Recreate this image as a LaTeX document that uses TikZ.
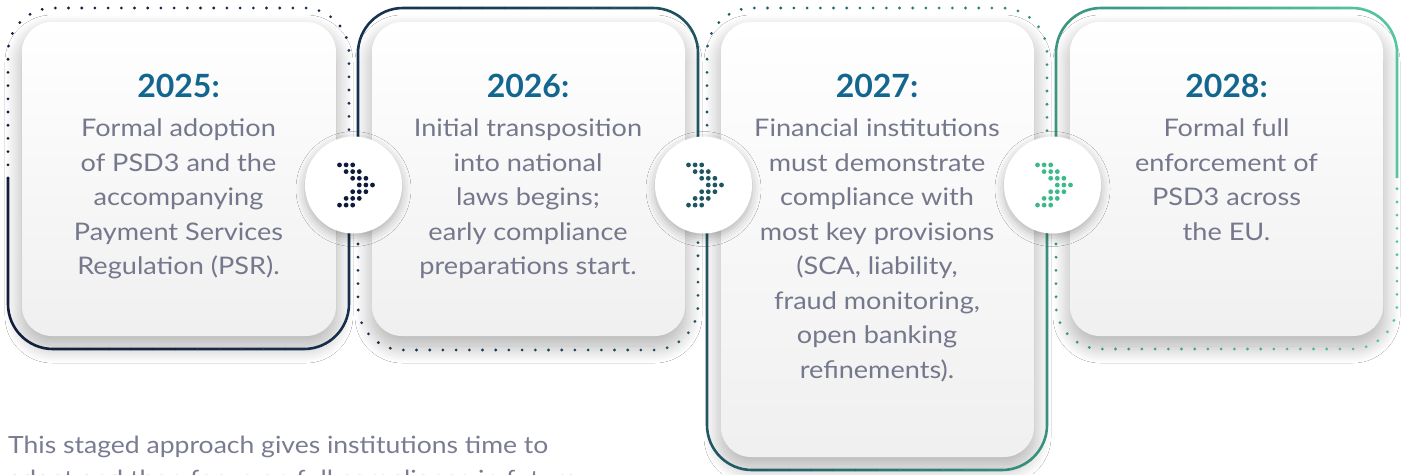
\documentclass[tikz,border=0pt]{standalone}
\usepackage{fontspec}
\setmainfont{Lato}
\newfontfamily\bodyfont{Lato}[FakeStretch=1.12]
\usetikzlibrary{shadows.blur}

% palette
\definecolor{yearblue}{HTML}{13678F}
\definecolor{bodygray}{HTML}{75788C}
\definecolor{notegray}{HTML}{7A7D92}
\definecolor{gA}{HTML}{121D3B}
\definecolor{gB}{HTML}{17304F}
\definecolor{gC}{HTML}{1F5562}
\definecolor{gD}{HTML}{3A937E}
\definecolor{gE}{HTML}{55C9A0}
\definecolor{chevA}{HTML}{0F1B3B}
\definecolor{chevB}{HTML}{1D5660}
\definecolor{chevC}{HTML}{3EB98A}

\tikzset{
  solidline/.style={draw, line width=2.6pt},
  innercard/.style={rounded corners=30pt, top color=white, bottom color=black!6,
    blur shadow={shadow xshift=0pt, shadow yshift=-10pt, shadow blur radius=17pt,
      shadow blur steps=20, shadow opacity=32}},
  disc/.style={circle, fill=white, minimum size=97pt, inner sep=0pt,
    blur shadow={shadow xshift=0pt, shadow yshift=-4pt, shadow blur radius=9pt, shadow opacity=28}},
  year/.style={anchor=base, inner sep=0pt, text=yearblue, font=\fontsize{32}{40}\selectfont\bfseries},
  body/.style={anchor=north, inner sep=0pt, align=center, text=bodygray, font=\bodyfont\fontsize{24.2}{34.5}\selectfont},
  note/.style={anchor=base west, inner sep=0pt, align=left, text=notegray, font=\bodyfont\fontsize{23.7}{34.5}\selectfont}
}

% colour "dotc" taken from the left-to-right gradient at x = #1
\newcommand\gradcolor[1]{%
  \pgfmathtruncatemacro\gseg{min(3,max(0,floor(#1/351)))}%
  \pgfmathtruncatemacro\gpc{max(0,min(100,(#1-351*\gseg)/351*100))}%
  \ifcase\gseg \colorlet{dotc}{gB!\gpc!gA}\or \colorlet{dotc}{gC!\gpc!gB}%
  \or \colorlet{dotc}{gD!\gpc!gC}\else \colorlet{dotc}{gE!\gpc!gD}\fi}

% solid halves of a frame (corner radius 45), split at y = 178
% #1 left x, #2 right x, #3 top or bottom y
\newcommand\upperhalf[3]{%
  \path[solidline] (#1,178) -- (#1,#3+45) arc[start angle=180,end angle=270,radius=45]
    -- (#2-45,#3) arc[start angle=270,end angle=360,radius=45] -- (#2,178);}
\newcommand\lowerhalf[3]{%
  \path[solidline] (#1,178) -- (#1,#3-45) arc[start angle=180,end angle=90,radius=45]
    -- (#2-45,#3) arc[start angle=90,end angle=0,radius=45] -- (#2,178);}

% dotted half of a frame: dots every 13.2pt along the same outline
% #1 left x, #2 right x, #3 edge y, #4 direction (-1 upward, 1 downward)
\newcommand\dottedhalf[4]{%
  \pgfmathsetmacro\fA{abs(#3-#4*45-178)}%
  \pgfmathsetmacro\fB{\fA+pi*45/2}%
  \pgfmathsetmacro\fC{\fB+#2-#1-90}%
  \pgfmathsetmacro\fD{\fC+pi*45/2}%
  \pgfmathsetmacro\fT{\fD+\fA}%
  \pgfmathtruncatemacro\fN{floor(\fT/13.2)}%
  \foreach \k in {0,...,\fN}{%
    \pgfmathsetmacro\s{\k*13.2}%
    \ifdim\s pt<\fA pt
      \pgfmathsetmacro\px{#1}\pgfmathsetmacro\py{178+#4*\s}%
    \else\ifdim\s pt<\fB pt
      \pgfmathsetmacro\th{(\s-\fA)/45*57.29578}%
      \pgfmathsetmacro\px{#1+45-45*cos(\th)}\pgfmathsetmacro\py{#3-#4*45+#4*45*sin(\th)}%
    \else\ifdim\s pt<\fC pt
      \pgfmathsetmacro\px{#1+45+\s-\fB}\pgfmathsetmacro\py{#3}%
    \else\ifdim\s pt<\fD pt
      \pgfmathsetmacro\th{(\s-\fC)/45*57.29578}%
      \pgfmathsetmacro\px{#2-45+45*sin(\th)}\pgfmathsetmacro\py{#3-#4*45+#4*45*cos(\th)}%
    \else
      \pgfmathsetmacro\px{#2}\pgfmathsetmacro\py{#3-#4*45-#4*(\s-\fD)}%
    \fi\fi\fi\fi
    \gradcolor{\px}%
    \fill[dotc] (\px,\py) circle (1.55pt);
  }}

% solid halves of the four frames
\newcommand\solidframes{%
  \lowerhalf{8}{349}{349}
  \upperhalf{358}{698}{8}
  \lowerhalf{707}{1047}{470}
  \upperhalf{1056}{1397}{8}
}

% dotted chevron inside a disc
\newcommand\chevron[3]{%
  \begin{scope}[shift={(#1)}, xshift=#2]
    \foreach \r in {-3,...,3}{
      \pgfmathtruncatemacro\cs{3-abs(\r)}
      \foreach \c in {0,1,2}{
        \fill[#3] ({(\cs+\c-2.5)*6.6},{\r*6.7}) circle (2.4pt);
      }
    }
  \end{scope}}

\begin{document}
\begin{tikzpicture}[x=1pt,y=-1pt]
  \useasboundingbox (0,0) rectangle (1403,474);
  \clip (0,0) rectangle (1403,474);
  \fill[white] (0,0) rectangle (1403,474);

  % inner cards
  \path[innercard] (22,22) rectangle (336,336);
  \path[innercard] (372,22) rectangle (685,336);
  \path[innercard] (721,22) rectangle (1034,457);
  \path[innercard] (1070,22) rectangle (1383,336);

  % solid frame halves, coloured with a left-to-right gradient
  \foreach \xa/\ca/\cb in {0/gA/gB, 351/gB/gC, 702/gC/gD, 1053/gD/gE}{
    \foreach \j in {0,...,15}{
      \pgfmathtruncatemacro\p{(\j+0.5)/16*100}
      \colorlet{cur}{\cb!\p!\ca}
      \begin{scope}
        \clip ({\xa+\j*21.9375},-10) rectangle ++(22.2,500);
        \begin{scope}[color=cur]
          \solidframes
        \end{scope}
      \end{scope}
    }
  }

  % dotted frame halves
  \dottedhalf{8}{349}{8}{-1}
  \dottedhalf{358}{698}{350}{1}
  \dottedhalf{707}{1047}{8}{-1}
  \dottedhalf{1056}{1397}{349}{1}

  % discs with chevrons
  \node[disc] (d1) at (353.5,185) {};
  \node[disc] (d2) at (703.5,185) {};
  \node[disc] (d3) at (1052.5,185) {};
  \chevron{d1}{2.5pt}{chevA}
  \chevron{d2}{1.5pt}{chevB}
  \chevron{d3}{1.5pt}{chevC}

  % texts
  \node[year] (y1) at (178.5,97) {2025:};
  \node[year] (y2) at (528,97) {2026:};
  \node[year] (y3) at (877,97) {2027:};
  \node[year] (y4) at (1226.5,97) {2028:};

  \node[body] (t1) at (178.5,118.5) {Formal adoption\\of PSD3 and the\\accompanying\\Payment Services\\Regulation (PSR).};
  \node[body] (t2) at (528,118.5) {Initial transposition\\into national\\laws begins;\\early compliance\\preparations start.};
  \node[body] (t3) at (877,118.5) {Financial institutions\\must demonstrate\\compliance with\\most key provisions\\(SCA, liability,\\fraud monitoring,\\open banking\\refinements).};
  \node[body] (t4) at (1226.5,118.5) {Formal full\\enforcement of\\PSD3 across\\the EU.};

  % closing note; its second line runs off the lower edge
  \node[note] (n) at (8,487.5) {This staged approach gives institutions time to\\adapt and then focus on full compliance in future};
\end{tikzpicture}
\end{document}
